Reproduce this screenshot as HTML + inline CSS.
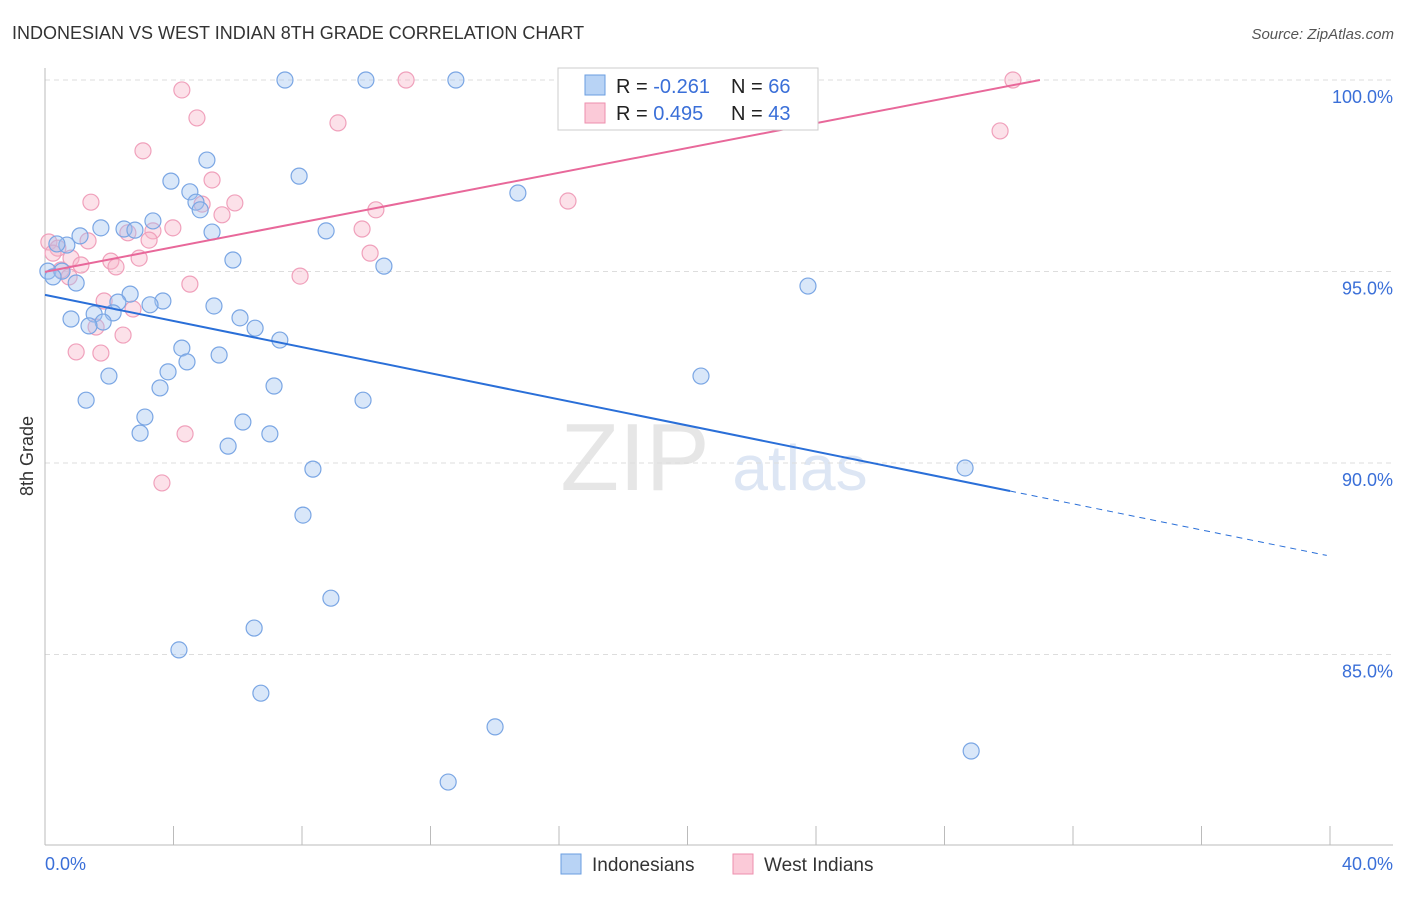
<!DOCTYPE html>
<html><head><meta charset="utf-8"><style>
body{margin:0;background:#fff;font-family:"Liberation Sans",sans-serif}
svg text{font-family:"Liberation Sans",sans-serif}
</style></head><body>
<svg id="c" width="1406" height="892">
<text x="12" y="39" font-size="18" fill="#333">INDONESIAN VS WEST INDIAN 8TH GRADE CORRELATION CHART</text>
<text x="1394" y="39" font-size="15" fill="#555" font-style="italic" text-anchor="end">Source: ZipAtlas.com</text>
<text x="33" y="456" font-size="18" fill="#333" transform="rotate(-90 33 456)" text-anchor="middle">8th Grade</text>
<text x="635" y="490" font-size="96" fill="#e6e6e6" font-family="Liberation Serif" text-anchor="middle">ZIP</text>
<text x="800" y="490" font-size="64" fill="#dde6f4" text-anchor="middle">atlas</text>
<g id="grid"></g><g id="pts"></g><g id="lines"></g>
<g>
<rect x="558" y="68" width="260" height="62" fill="#fff" stroke="#ccc"/>
<rect x="585" y="75" width="20" height="20" fill="#b8d3f5" stroke="#6a9ee0"/>
<rect x="585" y="103" width="20" height="20" fill="#fbcad8" stroke="#ee8fae"/>
<text x="616" y="93" font-size="20" fill="#222">R = <tspan fill="#3a6fd8">-0.261</tspan></text>
<text x="731" y="93" font-size="20" fill="#222">N = <tspan fill="#3a6fd8">66</tspan></text>
<text x="616" y="120" font-size="20" fill="#222">R = <tspan fill="#3a6fd8"> 0.495</tspan></text>
<text x="731" y="120" font-size="20" fill="#222">N = <tspan fill="#3a6fd8">43</tspan></text>
</g>
<g>
<rect x="561" y="854" width="20" height="20" fill="#b8d3f5" stroke="#6a9ee0"/>
<text x="592" y="871" font-size="19" fill="#333">Indonesians</text>
<rect x="733" y="854" width="20" height="20" fill="#fbcad8" stroke="#ee8fae"/>
<text x="764" y="871" font-size="19" fill="#333">West Indians</text>
</g>
</svg>
<script>
const blueX=[7.47,9.99,12.79,18.89,5.04,7.91,3.92,4.51,14.72,4.70,4.83,3.36,1.74,2.46,2.80,5.20,8.75,1.09,0.68,0.37,5.85,10.55,0.09,0.53,0.25,0.97,23.75,2.65,2.27,3.67,3.27,5.26,2.12,1.53,0.81,6.07,1.81,1.37,6.54,7.31,4.26,5.42,4.42,3.83,1.99,20.42,7.13,3.58,1.28,9.90,3.11,6.16,2.96,7.00,5.70,8.34,28.64,8.03,8.90,6.51,4.17,6.72,14.01,28.83,12.55];
const blueY=[100,100,100,100,97.91,97.49,97.36,97.08,97.05,96.81,96.61,96.32,96.14,96.11,96.08,96.03,96.06,95.93,95.69,95.72,95.30,95.14,95.01,95.01,94.86,94.70,94.62,94.41,94.20,94.23,94.13,94.10,93.92,93.89,93.76,93.79,93.68,93.58,93.52,93.21,93.00,92.82,92.64,92.38,92.27,92.27,92.01,91.96,91.64,91.64,91.20,91.07,90.78,90.76,90.44,89.84,89.87,88.64,86.47,85.69,85.12,83.99,83.11,82.48,81.67];
const pinkX=[4.26,11.24,30.13,4.73,9.12,29.73,3.05,5.20,1.43,16.28,4.89,5.91,5.51,10.30,3.98,3.36,2.58,9.87,0.12,1.34,0.40,3.24,0.25,10.12,2.93,0.81,2.05,1.12,2.21,0.50,7.94,4.51,0.75,1.84,2.74,1.59,2.43,0.97,1.74,4.36,3.64];
const pinkY=[99.74,100,100,99.01,98.88,98.67,98.15,97.39,96.81,96.84,96.76,96.79,96.48,96.61,96.14,96.06,96.01,96.11,95.77,95.80,95.61,95.82,95.48,95.48,95.35,95.35,95.27,95.17,95.12,95.04,94.88,94.67,94.86,94.23,94.02,93.55,93.34,92.90,92.87,90.76,89.48];
const yTicks=[100,95,90,85];
const yTickLabels=["100.0%","95.0%","90.0%","85.0%"];
const xTicks=[0,4,8,12,16,20,24,28,32,36,40];
const blueTrend=[94.39,87.57,30.04]; // y at 0, y at 40, solid end x
const pinkTrend=[94.99,100,30.97];
const NS="http://www.w3.org/2000/svg";
const X=v=>45+v*1285/40, Y=v=>80+(100-v)*38.3;
function mk(t,a,p){const e=document.createElementNS(NS,t);for(const k in a)e.setAttribute(k,a[k]);p.appendChild(e);return e;}
const g=document.getElementById('grid');
yTicks.forEach((t,i)=>{
 const l=mk('line',{x1:45,x2:1393,y1:Y(t),y2:Y(t),stroke:'#ddd','stroke-dasharray':'5,4'},g);
 
 
 const tx=mk('text',{x:1393,y:Y(t)+23,'font-size':18,fill:'#3a6fd8','text-anchor':'end'},g);
 tx.textContent=yTickLabels[i];
 
 
});
let ax=mk('line',{x1:45,x2:45,y1:68,y2:845,stroke:'#bbb'},g);


ax=mk('line',{x1:45,x2:1393,y1:845,y2:845,stroke:'#bbb'},g);


xTicks.forEach(t=>{const l=mk('line',{x1:X(t),x2:X(t),y1:826,y2:845,stroke:'#bbb'},g);
 
 });
let t0=mk('text',{x:45,y:870,'font-size':18,fill:'#3a6fd8'},g);t0.textContent='0.0%';


t0=mk('text',{x:1393,y:870,'font-size':18,fill:'#3a6fd8','text-anchor':'end'},g);t0.textContent='40.0%';


const P=document.getElementById('pts');
pinkX.forEach((x,i)=>{const c=mk('circle',{cx:X(x),cy:Y(pinkY[i]),r:8,fill:'rgba(248,180,200,0.4)',stroke:'#f0a0bb','stroke-width':1.2},P);
 
 });
blueX.forEach((x,i)=>{const c=mk('circle',{cx:X(x),cy:Y(blueY[i]),r:8,fill:'rgba(160,195,240,0.4)',stroke:'#7aa6e4','stroke-width':1.2},P);
 
 });
const L=document.getElementById('lines');
const by=x=>blueTrend[0]+(blueTrend[1]-blueTrend[0])*x/40;
let ln=mk('line',{x1:X(0),y1:Y(by(0)),x2:X(blueTrend[2]),y2:Y(by(blueTrend[2])),stroke:'#2a6fd8','stroke-width':2},L);


ln=mk('line',{x1:X(blueTrend[2]),y1:Y(by(blueTrend[2])),x2:X(39.9),y2:Y(by(39.9)),stroke:'#2a6fd8','stroke-width':1,'stroke-dasharray':'6,5'},L);


ln=mk('line',{x1:X(0),y1:Y(pinkTrend[0]),x2:X(pinkTrend[2]),y2:Y(pinkTrend[1]),stroke:'#e8689a','stroke-width':2},L);


</script>
</body></html>
